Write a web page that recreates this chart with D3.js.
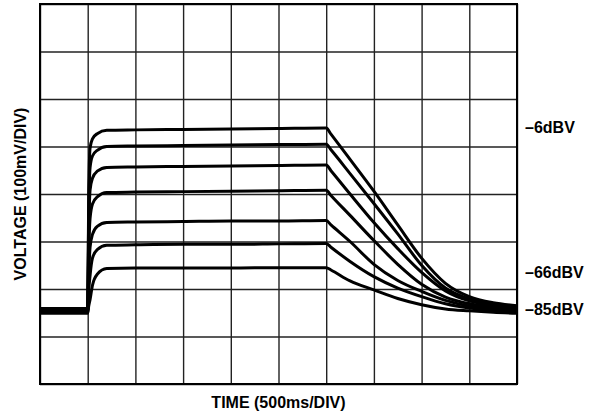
<!DOCTYPE html>
<html>
  <head>
    <script type="text/javascript" src="https://cdn.jsdelivr.net/npm/d3@7"></script>
    <style>
      body { margin: 0; background: #fff; }
      text { font-family: "Liberation Sans", Arial, sans-serif; font-weight: bold; }
    </style>
  </head>
  <body>
    <script type="text/javascript">
      // time in divisions (500ms/div), voltage in divisions (100mV/div)
      const timeDiv = [0, 1, 1.02, 1.05, 1.1, 1.2, 1.4, 2, 3, 4, 5, 6, 6.1, 6.5, 7, 7.5, 8, 8.5, 9, 9.5, 10];

      const trace1 = [1.59, 1.59, 3.85, 4.97, 5.16, 5.27, 5.34, 5.35, 5.36, 5.37, 5.38, 5.39, 5.26, 4.73, 4.06, 3.35, 2.65, 2.12, 1.84, 1.71, 1.65];
      const trace2 = [1.57, 1.57, 3.46, 4.56, 4.8, 4.92, 5.0, 5.01, 5.02, 5.03, 5.04, 5.05, 4.93, 4.43, 3.8, 3.16, 2.5, 2.02, 1.79, 1.68, 1.63];
      const trace3 = [1.56, 1.56, 3.06, 4.09, 4.33, 4.48, 4.56, 4.57, 4.58, 4.59, 4.6, 4.61, 4.49, 4.0, 3.4, 2.85, 2.35, 1.96, 1.75, 1.66, 1.61];
      const trace4 = [1.54, 1.54, 2.67, 3.49, 3.79, 3.94, 4.03, 4.04, 4.05, 4.06, 4.07, 4.08, 3.97, 3.55, 3.02, 2.52, 2.1, 1.83, 1.69, 1.62, 1.58];
      const trace5 = [1.53, 1.53, 2.24, 2.88, 3.15, 3.32, 3.4, 3.41, 3.42, 3.43, 3.43, 3.44, 3.35, 3.0, 2.52, 2.18, 1.95, 1.76, 1.64, 1.58, 1.55];
      const trace6 = [1.51, 1.51, 1.94, 2.29, 2.65, 2.83, 2.92, 2.93, 2.94, 2.94, 2.95, 2.96, 2.88, 2.58, 2.26, 2.02, 1.84, 1.69, 1.6, 1.55, 1.52];
      const trace7 = [1.49, 1.49, 1.63, 1.78, 2.08, 2.31, 2.43, 2.44, 2.44, 2.44, 2.45, 2.45, 2.4, 2.17, 1.98, 1.8, 1.67, 1.58, 1.54, 1.51, 1.49];

      const traces = [trace1, trace2, trace3, trace4, trace5, trace6, trace7];

      const levelLabels = ["–6dBV", "–66dBV", "–85dBV"];
      const labelLevels = [5.4, 2.36, 1.58];

      const W = 598, H = 419;
      const margin = { top: 4, right: 81, bottom: 35, left: 40 };

      const svg = d3.select("body").append("svg")
        .attr("width", W)
        .attr("height", H);

      const x = d3.scaleLinear().domain([0, 10]).range([margin.left, W - margin.right]);
      const y = d3.scaleLinear().domain([0, 8]).range([H - margin.bottom, margin.top]);

      // grid
      svg.append("g")
        .attr("transform", "translate(0," + y(0) + ")")
        .call(d3.axisBottom(x).ticks(10).tickSize(-(y(0) - y(8))).tickFormat(""))
        .call(g => g.select(".domain").remove())
        .call(g => g.selectAll("line").attr("stroke", "#222").attr("stroke-width", 1.4));

      svg.append("g")
        .attr("transform", "translate(" + x(0) + ",0)")
        .call(d3.axisLeft(y).ticks(8).tickSize(-(x(10) - x(0))).tickFormat(""))
        .call(g => g.select(".domain").remove())
        .call(g => g.selectAll("line").attr("stroke", "#222").attr("stroke-width", 1.4));

      svg.append("rect")
        .attr("x", x(0)).attr("y", y(8))
        .attr("width", x(10) - x(0)).attr("height", y(0) - y(8))
        .attr("fill", "none").attr("stroke", "#000").attr("stroke-width", 2);

      // traces
      const line = d3.line()
        .x((d, i) => x(timeDiv[i]))
        .y(d => y(d))
        .curve(d3.curveMonotoneX);

      svg.append("g").selectAll("path")
        .data(traces)
        .enter()
        .append("path")
        .attr("d", line)
        .attr("fill", "none")
        .attr("stroke", "#000")
        .attr("stroke-width", 3)
        .attr("stroke-linejoin", "round");

      // level labels
      svg.append("g").selectAll("text")
        .data(levelLabels)
        .enter()
        .append("text")
        .attr("x", x(10) + 8)
        .attr("y", (d, i) => y(labelLevels[i]))
        .attr("dy", "0.35em")
        .attr("font-size", 16)
        .text(d => d);

      // axis titles
      svg.append("text")
        .attr("x", (x(0) + x(10)) / 2)
        .attr("y", 408)
        .attr("text-anchor", "middle")
        .attr("font-size", 16)
        .text("TIME (500ms/DIV)");

      svg.append("text")
        .attr("transform", "translate(26," + (y(0) + y(8)) / 2 + ") rotate(-90)")
        .attr("text-anchor", "middle")
        .attr("font-size", 16)
        .text("VOLTAGE (100mV/DIV)");
    </script>
  </body>
</html>
